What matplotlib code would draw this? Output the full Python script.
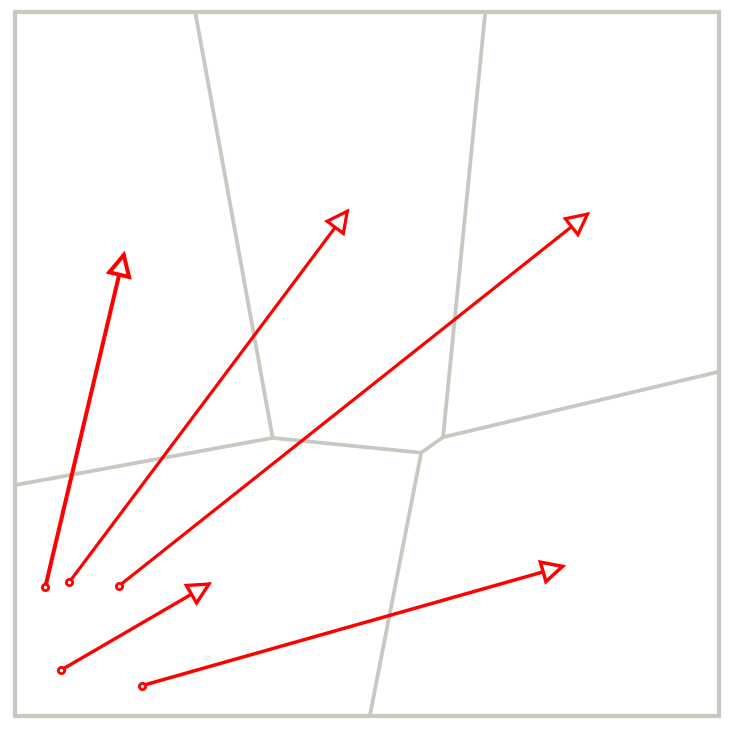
import matplotlib
matplotlib.use("Agg")
import matplotlib.pyplot as plt
from matplotlib.patches import FancyArrowPatch, Rectangle

# Voronoi-like cell edges (unit square coordinates)
edge_x0 = [0.256, 0.668, 0.000, 0.366, 0.577, 0.608, 0.577]
edge_y0 = [1.000, 1.000, 0.328, 0.395, 0.374, 0.396, 0.374]
edge_x1 = [0.366, 0.608, 0.366, 0.577, 0.608, 1.000, 0.504]
edge_y1 = [0.395, 0.396, 0.395, 0.374, 0.396, 0.489, 0.000]

# Arrows: start points and tips
start_x = [0.043, 0.077, 0.148, 0.065, 0.180]
start_y = [0.183, 0.190, 0.185, 0.065, 0.043]
tip_x = [0.156, 0.475, 0.817, 0.280, 0.783]
tip_y = [0.661, 0.721, 0.716, 0.190, 0.214]
arrow_lw = [2.9, 2.3, 2.3, 2.4, 2.5]

GRAY = "#c9c7bf"
RED = "#ff0000"

fig = plt.figure(figsize=(7.46, 7.40), dpi=100)
ax = fig.add_axes([15 / 746, 24 / 740, 704 / 746, 704 / 740])
ax.set_xlim(0, 1)
ax.set_ylim(0, 1)
ax.axis("off")

ax.add_patch(Rectangle((0, 0), 1, 1, fill=False, ec=GRAY, lw=3.0,
                       clip_on=False, joinstyle="miter"))
for x0, y0, x1, y1 in zip(edge_x0, edge_y0, edge_x1, edge_y1):
    ax.plot([x0, x1], [y0, y1], color=GRAY, lw=2.7, solid_capstyle="butt",
            clip_on=False)

for sx, sy, tx, ty, lw in zip(start_x, start_y, tip_x, tip_y, arrow_lw):
    arr = FancyArrowPatch((sx, sy), (tx, ty),
                          arrowstyle="-|>,head_length=14.5,head_width=7.3",
                          mutation_scale=1, shrinkA=0, shrinkB=0,
                          fc="white", ec=RED, lw=lw, joinstyle="miter",
                          zorder=3)
    ax.add_patch(arr)
    ax.plot([sx], [sy], marker="o", ms=4.5, mfc="white", mec=RED, mew=2.0,
            zorder=4)

fig.savefig("out.png", dpi=100)
